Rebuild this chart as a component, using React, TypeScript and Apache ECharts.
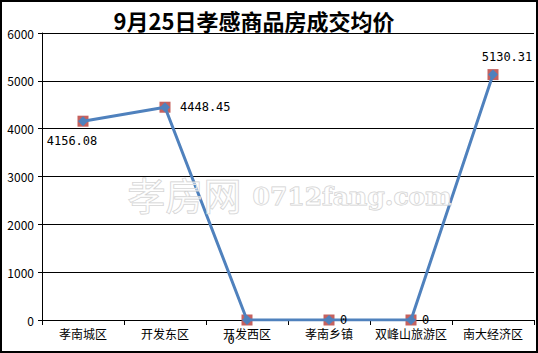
import React, { useEffect, useRef } from "react";
import * as echarts from "echarts";

const categories = ["孝南城区", "开发东区", "开发西区", "孝南乡镇", "双峰山旅游区", "南大经济区"];
const values = [4156.08, 4448.45, 0, 0, 0, 5130.31];
const valueLabels = ["4156.08", "4448.45", "0", "0", "0", "5130.31"];
const yTicks = [0, 1000, 2000, 3000, 4000, 5000, 6000];

const labelPos: any[] = [
  { position: "bottom", offset: [-11, 4] },
  { position: "right", distance: 10, offset: [0, 0] },
  { position: "bottom", offset: [-16, 4] },
  { position: "right", distance: 6, offset: [0, 0] },
  { position: "right", distance: 6, offset: [0, 0] },
  { position: "top", offset: [14, -2] },
];

export default function App() {
  const ref = useRef<HTMLDivElement>(null);
  useEffect(() => {
    document.body.style.margin = "0";
    const chart = echarts.init(ref.current!, null, { renderer: "svg" });
    const font = "'Noto Sans CJK SC', 'DejaVu Sans', sans-serif";
    chart.setOption({
      animation: false,
      backgroundColor: "#ffffff",
      title: {
        text: "9月25日孝感商品房成交均价",
        left: 249,
        textAlign: "center",
        top: 4,
        textStyle: { fontSize: 22, fontWeight: "bold", color: "#000", fontFamily: "'Noto Sans CJK SC', serif" },
      },
      grid: { left: 42, right: 4, top: 33, bottom: 33 },
      xAxis: {
        type: "category",
        data: categories,
        boundaryGap: true,
        axisLine: { lineStyle: { color: "#000", width: 1 } },
        axisTick: { show: true, length: 5, lineStyle: { color: "#000" } },
        axisLabel: { color: "#000", fontSize: 12, fontFamily: font, margin: 7, interval: 0 },
      },
      yAxis: {
        type: "value",
        min: yTicks[0],
        max: yTicks[yTicks.length - 1],
        interval: 1000,
        axisLine: { show: true, lineStyle: { color: "#000", width: 1 } },
        axisTick: { show: true, length: 4, lineStyle: { color: "#000" } },
        axisLabel: { color: "#000", fontSize: 12, fontFamily: font, margin: 8, formatter: (v: number) => String(v) },
        splitLine: { show: true, lineStyle: { color: "#000", width: 1 } },
      },
      series: [
        {
          type: "scatter",
          data: values,
          symbol: "rect",
          symbolSize: 11,
          itemStyle: { color: "#c0504d", opacity: 0.9 },
          z: 2,
          silent: true,
        },
        {
          type: "line",
          data: values.map((v, i) => ({
            value: v,
            label: {
              show: true,
              formatter: valueLabels[i],
              color: "#000",
              fontSize: 12,
              fontFamily: "'DejaVu Sans Mono', monospace",
              ...labelPos[i],
            },
          })),
          symbol: "diamond",
          symbolSize: 10,
          showAllSymbol: true,
          lineStyle: { color: "#4f81bd", width: 3 },
          itemStyle: { color: "#4f81bd" },
          z: 3,
        },
      ],
      graphic: [
        {
          type: "text",
          left: 127,
          top: 174,
          z: 100,
          style: {
            text: "孝房网",
            font: "38px 'Noto Sans CJK SC'",
            fill: "rgba(255,255,255,0.5)",
            stroke: "#cfcfcf",
            lineWidth: 1,
          },
        },
        {
          type: "text",
          left: 252,
          top: 183,
          z: 100,
          style: {
            text: "0712fang.com",
            font: "bold 25px 'DejaVu Serif', serif",
            fill: "rgba(255,255,255,0.5)",
            stroke: "#cfcfcf",
            lineWidth: 1,
          },
        },
        {
          type: "rect",
          shape: { x: 1, y: 1, width: 536, height: 351 },
          style: { fill: "none", stroke: "#000", lineWidth: 2 },
          z: 100,
          silent: true,
        },
      ],
    });
    return () => chart.dispose();
  }, []);
  return <div ref={ref} style={{ width: 538, height: 353 }} />;
}
